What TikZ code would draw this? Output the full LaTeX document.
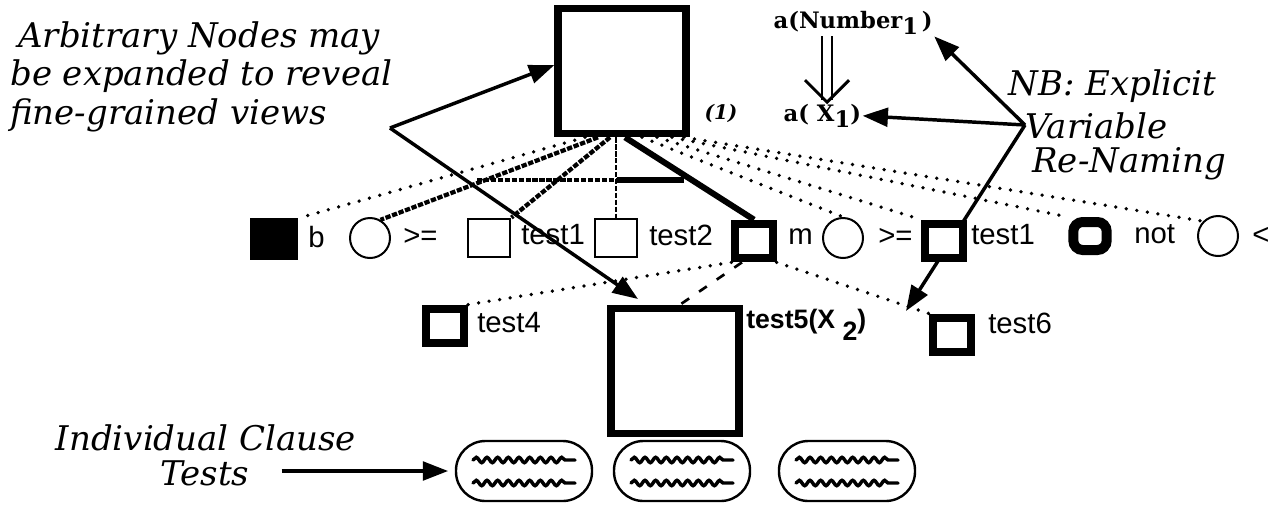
\documentclass[tikz,border=0pt]{standalone}
\usepackage{fontspec}
\setmainfont{DejaVu Serif}
\setsansfont{Liberation Sans}
\usetikzlibrary{arrows.meta,calc,backgrounds,decorations.pathmorphing}

\tikzset{
  bigbox/.style={draw, fill=white, line width=5.5pt, minimum width=96pt, minimum height=94pt, inner sep=0pt},
  thinbox/.style={draw, fill=white, line width=1.6pt, minimum width=32pt, minimum height=29pt, inner sep=0pt},
  thickbox/.style={draw, fill=white, line width=6pt, minimum width=28pt, minimum height=26pt, inner sep=0pt},
  ring/.style={draw, fill=white, circle, line width=1.5pt, minimum size=30pt, inner sep=0pt},
  pill/.style={draw, fill=white, rounded corners=22pt, line width=1.8pt, minimum width=102pt, minimum height=45pt},
  lbl/.style={font=\sffamily\fontsize{22}{24}\selectfont, anchor=west, inner sep=0pt},
  note/.style={font=\itshape\fontsize{25.5}{29}\selectfont, align=left, inner sep=0pt},
  term/.style={font=\bfseries\fontsize{17}{19}\selectfont, inner sep=1pt, anchor=base west},
  dotline/.style={line width=2.8pt, line cap=round, dash pattern=on 0pt off 8pt},
  hatch/.style={line width=3.2pt, dash pattern=on 4pt off 1.2pt},
  pointer/.style={line width=2.6pt, -{Triangle[length=19pt,width=14pt]}},
  squiggle/.style={line width=2.6pt, line cap=round, decorate, decoration={snake, amplitude=2pt, segment length=8pt, post length=6pt}},
}

\begin{document}
\begin{tikzpicture}[x=0.75pt,y=-0.75pt]
\useasboundingbox (0,0) rectangle (1273,504);

% expanded node and its renaming
\node[bigbox] (top) at (622,71) {};
\node[font=\bfseries\itshape\fontsize{15}{17}\selectfont] (one) at (721,113) {(1)};
\node[term] (num) at (772,28) {a(Number\raisebox{-0.3em}{1}\,)};
\node[term] (ax) at (782,121) {a( X\raisebox{-0.3em}{1})};

% first level
\node[fill=black, draw, minimum width=35pt, minimum height=30.5pt, inner sep=0pt] (b) at (274,239) {};
\node[lbl] (lb) at (308,237) {b};
\node[ring] (c1) at (370,238) {};
\node[lbl] (lc1) at (403,237) {>=};
\node[thinbox] (t1) at (489,238) {};
\node[lbl] (lt1) at (521,235) {test1};
\node[thinbox] (t2) at (616,238) {};
\node[lbl] (lt2) at (649,235) {test2};
\node[thickbox] (m) at (754,241) {};
\node[lbl] (lm) at (788,237) {m};
\node[ring] (c2) at (843,238) {};
\node[lbl] (lc2) at (878,237) {>=};
\node[thickbox] (t3) at (944,241) {};
\node[lbl] (lt3) at (971,235) {test1};
\node[draw, fill=white, line width=7.5pt, rounded corners=7pt, minimum width=25pt, minimum height=21pt, inner sep=0pt] (n) at (1090,236) {};
\node[lbl] (ln) at (1134,234) {not};
\node[ring] (c3) at (1218,236) {};
\node[lbl] (lc3) at (1252,236) {<};

% second level
\node[thickbox] (t4) at (445,326) {};
\node[lbl] (lt4) at (477,323) {test4};
\node[bigbox] (t5) at (675,371) {};
\node[lbl, font=\sffamily\bfseries\fontsize{20}{22}\selectfont] (lt5) at (746,325) {test5(X \raisebox{-0.45em}{2})};
\node[thickbox] (t6) at (952,335) {};
\node[lbl] (lt6) at (988,323) {test6};

% clause tests
\node[pill] (p1) at (524,471) {};
\node[pill] (p2) at (682,471) {};
\node[pill] (p3) at (847,471) {};
\foreach \p in {p1,p2,p3} {
  \draw[squiggle] ($(\p.center)+(-51,-11)$) -- ++(102,0);
  \draw[squiggle] ($(\p.center)+(-51,12)$) -- ++(102,0);
}

% annotations
\node[note, anchor=north west] (views) at (10,21) {\hspace{6pt}Arbitrary Nodes may\\be expanded to reveal\\fine-grained views};
\node[note, anchor=west] (nb) at (1008,86) {NB: Explicit};
\node[note, anchor=west] (var) at (1025,126) {Variable};
\node[note, anchor=west] (ren) at (1032,164) {Re-Naming};
\node[note] (ic) at (206,438) {Individual Clause};
\node[note] (tests) at (205,473) {Tests};

\coordinate (lv) at (390,128);
\coordinate (x5) at (638,299);
\coordinate (rv) at (1025,125);
\coordinate (x6) at (906,311);
\coordinate (tip) at ($(ax.north west)+(45,0)$);

\begin{scope}[on background layer]
  % fan out of the expanded node
  \draw[dotline] ($(top.south)+(-37,0)$) -- (b.north east);
  \draw[hatch] ($(top.south)+(-24,0)$) -- (c1.60);
  \draw[hatch] ($(top.south)+(-12,0)$) -- (t1.north east);
  \draw[hatch, line width=2.2pt] ($(top.south)+(-6,0)$) -- (t2.north);
  \draw[hatch] (477,180) -- (617,180);
  \draw[line width=4pt] (617,180) -- (684,180);
  \draw[line width=4.5pt] ($(top.south)+(3,0)$) -- (m.north);
  \draw[dotline] ($(top.south)+(20,0)$) -- (c2.north);
  \draw[dotline] ($(top.south)+(35,0)$) -- (t3.north west);
  \draw[dotline] ($(top.south)+(50,0)$) -- (n.north west);
  \draw[dotline] ($(top.south)+(62,0)$) -- (c3.north west);

  \draw[dotline] (m.south west) -- (t4.north east);
  \draw[line width=2pt, dash pattern=on 7pt off 9pt] ($(m.south)+(-12,0)$) -- ($(t5.north)+(5,0)$);
  \draw[dotline] (m.south east) -- (t6.north west);

  \draw[pointer] (lv) -- (top.175);
  \draw[pointer] (lv) -- (x5);
  \draw[pointer] (rv) -- (num.south east);
  \draw[pointer] (rv) -- (ax.east);
  \draw[pointer] (rv) -- (x6);
  \draw[pointer, shorten <=24pt, shorten >=5pt] (tests.east |- p1.west) -- (p1.west);

  \draw[line width=1.4pt, double distance=6pt, shorten >=2pt] ($(num.south west)+(55,0)$) -- (tip);
  \draw[line width=2.2pt] ($(tip)+(-22,-22)$) -- (tip) -- ++(22,-22);
\end{scope}
\end{tikzpicture}
\end{document}
